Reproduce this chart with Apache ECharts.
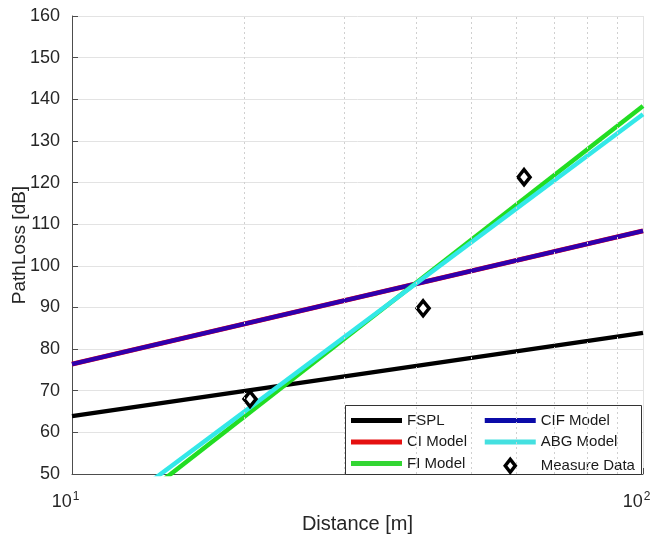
<!DOCTYPE html>
<html>
<head>
<meta charset="utf-8">
<script src="https://cdn.jsdelivr.net/npm/echarts@6/dist/echarts.min.js"></script>
<style>html,body{margin:0;padding:0;background:#fff}#c{width:661px;height:545px}</style>
</head>
<body>
<div id="c"></div>
<script>
// ---- data ----
const distance = [10, 100];
const fsplLoss = [63.9, 83.9];
const ciLoss = [76.4, 108.4];
const cifLoss = [76.4, 108.4];
const abgLoss = [34.1, 136.4];
const fiLoss = [31.5, 138.4];
const measDist = [20.5, 41.2, 61.9];
const measLoss = [68.0, 89.8, 121.3];
const minorGridX = [20, 30, 40, 50, 60, 70, 80, 90];
const yMin = 50, yMax = 160, yStep = 10;
const xMin = 10, xMax = 100;

const pair = (xs, ys) => xs.map((x, i) => [x, ys[i]]);
const FONT = '"Liberation Sans", Arial, sans-serif';
const lineIcon = 'path://M0,0 L51,0 L51,5 L0,5 Z';
const diamondIcon = 'path://M0,0 M51,16 M25.5,1.5 L30.5,8 L25.5,14.5 L20.5,8 Z';

const chart = echarts.init(document.getElementById('c'), null, {renderer: 'canvas'});
const option = {
  animation: false,
  backgroundColor: '#fff',
  textStyle: {fontFamily: FONT},
  grid: {left: 72, right: 18, top: 16, bottom: 71, containLabel: false, outerBoundsMode: 'none'},
  xAxis: {
    type: 'log', logBase: 10, min: xMin, max: xMax,
    name: 'Distance [m]', nameLocation: 'middle', nameGap: 40, nameMoveOverlap: false,
    nameTextStyle: {fontSize: 20, color: '#262626', fontFamily: FONT},
    axisLine: {show: true, onZero: false, lineStyle: {color: '#4d4d4d', width: 1}},
    axisTick: {show: true, inside: true, length: 6, lineStyle: {color: '#4d4d4d'}},
    splitLine: {show: true, lineStyle: {color: '#e3e3e3', width: 1}},
    axisLabel: {
      margin: 17,
      formatter: v => '{b|10}{s|' + Math.round(Math.log10(v)) + '}{q|}',
      rich: {
        b: {fontSize: 18, color: '#262626', fontFamily: FONT},
        s: {fontSize: 12, color: '#262626', fontFamily: FONT, padding: [0, 0, 10, 1]},
        q: {width: 13}
      }
    }
  },
  yAxis: {
    type: 'value', min: yMin, max: yMax, interval: yStep,
    name: 'PathLoss [dB]', nameLocation: 'middle', nameGap: 43, nameRotate: 90, nameMoveOverlap: false,
    nameTextStyle: {fontSize: 19, color: '#262626', fontFamily: FONT},
    axisLine: {show: true, lineStyle: {color: '#4d4d4d', width: 1}},
    axisTick: {show: true, inside: true, length: 6, lineStyle: {color: '#4d4d4d'}},
    splitLine: {show: true, lineStyle: {color: '#e3e3e3', width: 1}},
    axisLabel: {fontSize: 18, color: '#262626', margin: 12, fontFamily: FONT}
  },
  legend: [
    {
      orient: 'vertical', left: 351, top: 413, padding: 0, itemGap: 6.5,
      itemWidth: 51, itemHeight: 16,
      textStyle: {fontSize: 15, color: '#1a1a1a', fontFamily: FONT},
      data: [
        {name: 'FSPL', icon: lineIcon, itemStyle: {color: '#000', borderWidth: 0}},
        {name: 'CI Model', icon: lineIcon, itemStyle: {color: '#e51010', borderWidth: 0}},
        {name: 'FI Model', icon: lineIcon, itemStyle: {color: '#33d633', borderWidth: 0}}
      ]
    },
    {
      orient: 'vertical', left: 483, top: 413, padding: 0, itemGap: 6.5,
      itemWidth: 51, itemHeight: 16,
      textStyle: {fontSize: 15, color: '#1a1a1a', fontFamily: FONT},
      data: [
        {name: 'CIF Model', icon: lineIcon, itemStyle: {color: '#0b0ba8', borderWidth: 0}},
        {name: 'ABG Model', icon: lineIcon, itemStyle: {color: '#44e0e0', borderWidth: 0}},
        {name: 'Measure Data', icon: diamondIcon, itemStyle: {color: '#fff', borderColor: '#000', borderWidth: 3.5, opacity: 1}}
      ]
    }
  ],
  graphic: {
    elements: [{
      type: 'rect', z: 3,
      shape: {x: 345.5, y: 405.5, width: 296, height: 69},
      style: {fill: '#fff', stroke: '#333', lineWidth: 1}
    }]
  },
  series: [
    {
      name: 'FSPL', type: 'line', data: pair(distance, fsplLoss), showSymbol: false, symbol: 'none',
      color: '#000', lineStyle: {width: 4.5, color: '#000'},
      markLine: {
        silent: true, symbol: 'none', label: {show: false},
        lineStyle: {type: [2, 3], color: '#d0d0d0', width: 1},
        data: minorGridX.map(v => ({xAxis: v}))
      },
      z: 2
    },
    {
      name: 'CI Model', type: 'line', data: pair(distance, ciLoss), showSymbol: false, symbol: 'none',
      color: '#ff0000', lineStyle: {width: 5, color: '#ff0000'}, z: 2
    },
    {
      name: 'CIF Model', type: 'line', data: pair(distance, cifLoss), showSymbol: false, symbol: 'none',
      color: '#0000cc', lineStyle: {width: 4.5, color: '#1800c0', opacity: 0.9}, z: 2
    },
    {
      name: 'FI Model', type: 'line', data: pair(distance, fiLoss), showSymbol: false, symbol: 'none',
      color: '#22dd22', lineStyle: {width: 4.5, color: '#22dd22'}, z: 2
    },
    {
      name: 'ABG Model', type: 'line', data: pair(distance, abgLoss), showSymbol: false, symbol: 'none',
      color: '#33e8e8', lineStyle: {width: 4.5, color: '#33e8e8'}, z: 2
    },
    {
      name: 'Measure Data', type: 'scatter', data: pair(measDist, measLoss),
      symbol: 'diamond', symbolSize: [12, 15],
      itemStyle: {color: '#fff', borderColor: '#000', borderWidth: 3.5, opacity: 1}, z: 2
    }
  ]
};
chart.setOption(option);
</script>
</body>
</html>
